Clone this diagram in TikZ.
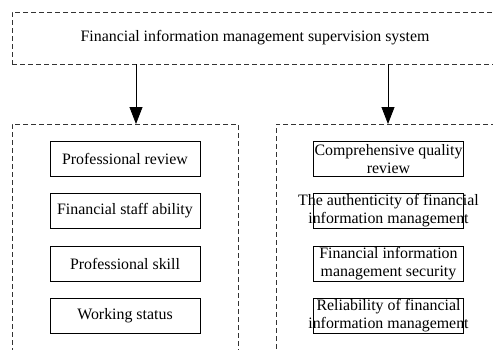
\documentclass[tikz,border=0pt]{standalone}
\usepackage{fontspec}
\setmainfont{Liberation Serif}
\usepackage{tikz}
\usetikzlibrary{arrows.meta}
\usetikzlibrary{shapes}

\begin{document}
\begin{tikzpicture}[
        groupbox/.style = {draw = black!80, dash pattern = on 5pt off 3pt, line width = 0.8pt, inner sep = 0pt},
        itembox/.style = {draw = black, line width = 0.7pt, minimum width = 150pt, minimum height = 35pt, inner sep = 0pt},
        itemtext/.style = {align = center},
        downarrow/.style = {draw = black, line width = 0.8pt, -{Triangle[width = 13pt, length = 17pt]}},
        every node/.style = {font = \fontsize{15.9}{18}\selectfont}
    ]
        \clip (0, 0) rectangle (493pt, -349pt);

        \node [groupbox, minimum width = 486pt, minimum height = 52pt] (sys) at (255pt, -38pt)
            {Financial information management supervision system};
        \node [groupbox, minimum width = 226pt, minimum height = 236pt] (lgrp) at (125pt, -242pt) {};
        \node [groupbox, minimum width = 224pt, minimum height = 236pt] (rgrp) at (388pt, -242pt) {};

        \coordinate (lend) at (136pt, -124pt);
        \coordinate (rend) at (388pt, -124pt);
        \draw [downarrow] (sys.south -| lend) -- (lend);
        \draw [downarrow] (sys.south -| rend) -- (rend);

        % left column
        \node [itembox] (l1) at (125pt, -159pt) {Professional review};
        \node [itembox] (l2) at (125pt, -210.5pt) {Financial staff ability};
        \node [itembox] (l3) at (125pt, -263.5pt) {Professional skill};
        \node [itembox] (l4) at (125pt, -315.5pt) {Working status};

        % right column
        \node [itembox] (r1) at (388.5pt, -159pt) {};
        \node [itembox] (r2) at (388.5pt, -210.5pt) {};
        \node [itembox] (r3) at (388.5pt, -263.5pt) {};
        \node [itembox] (r4) at (388.5pt, -315.5pt) {};
        \node [itemtext] at (r1) {Comprehensive quality\\review};
        \node [itemtext] at (r2) {The authenticity of financial\\information management};
        \node [itemtext] at (r3) {Financial information\\management security};
        \node [itemtext] at (r4) {Reliability of financial\\information management};
\end{tikzpicture}
\end{document}
